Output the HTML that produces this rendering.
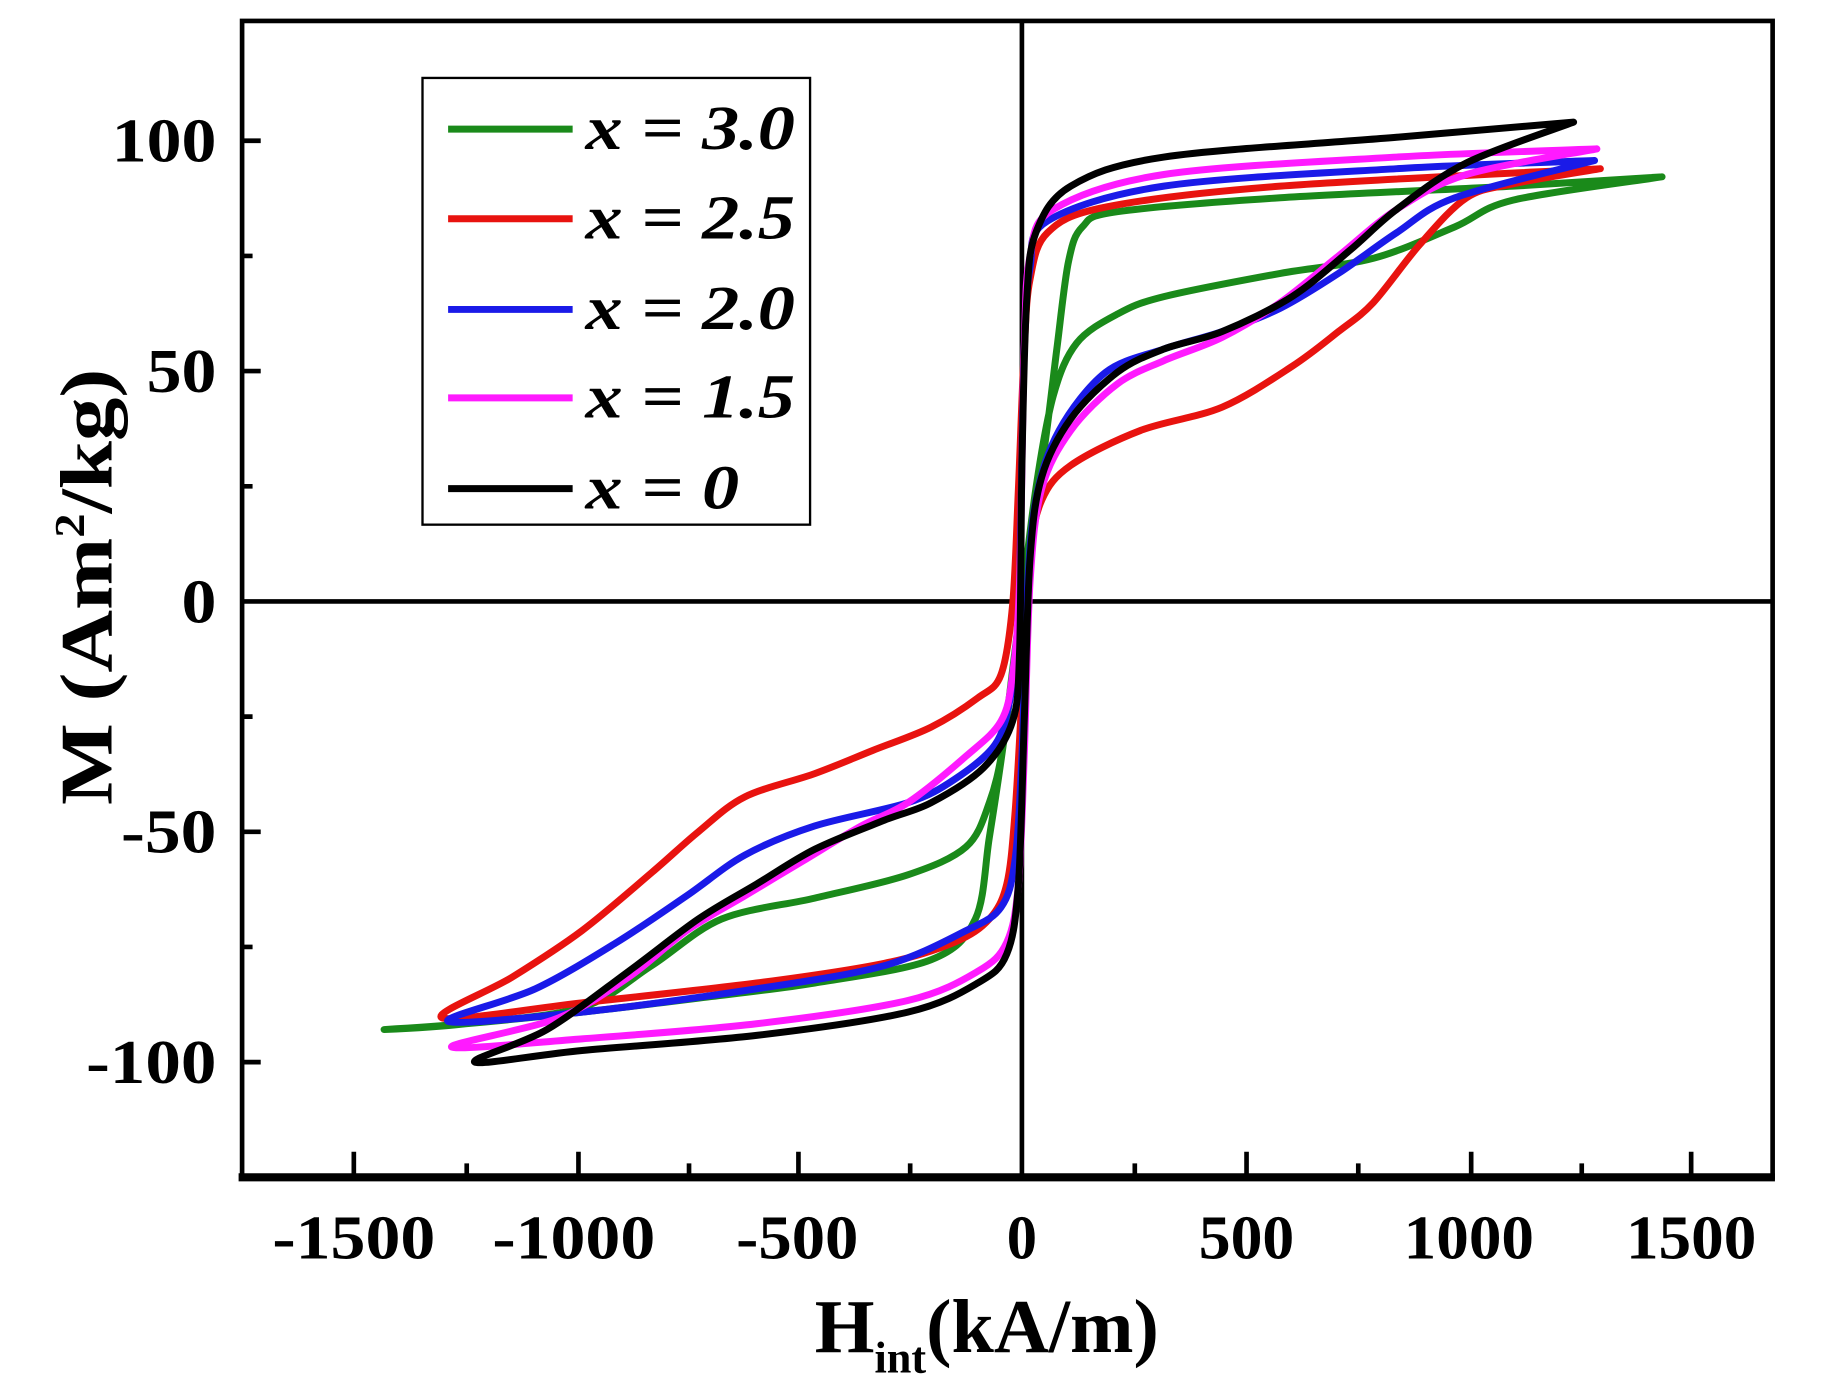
<!DOCTYPE html>
<html><head><meta charset="utf-8"><style>
html,body{margin:0;padding:0;background:#fff;}
svg{display:block}
text{font-family:"Liberation Serif","DejaVu Serif",serif;font-weight:bold;fill:#000}
</style></head><body>
<svg width="1825" height="1396" viewBox="0 0 1568 1200" preserveAspectRatio="none" xmlns="http://www.w3.org/2000/svg">
<rect width="1568" height="1200" fill="#fff"/>
<g stroke="#000" stroke-width="4" fill="none">
<rect x="208" y="18" width="1315" height="994"/>
<line x1="205" y1="1012" x2="1525" y2="1012" stroke-width="7"/>
<line x1="878" y1="18" x2="878" y2="1012"/>
<line x1="208" y1="517" x2="1523" y2="517"/>
<path d="M304,1012v-22M497,1012v-22M686,1012v-22M1071,1012v-22M1264,1012v-22M1453,1012v-22M401,1012v-12M592,1012v-12M782,1012v-12M975,1012v-12M1167,1012v-12M1359,1012v-12"/>
<path d="M208,121h16M208,319h16M208,715h16M208,913h16M208,220h9M208,418h9M208,616h9M208,814h9"/>
</g>
<g id="curves" fill="none" stroke-width="6" stroke-linejoin="round" stroke-linecap="round">
<polyline stroke="#1a8a1a" points="1428,152 1300,160 1100,170 960,182 930,195 918,225 908,300 898,380 885,460 872,560 862,640 850,720 838,790 800,825 700,845 600,858 500,870 400,880 330,885 400,880 500,866 560,830 620,790 700,772 780,752 830,728 850,690 862,640 875,540 890,420 905,340 925,295 960,270 1000,255 1100,235 1180,222 1250,195 1300,172 1428,152"/>
<polyline stroke="#e8130f" points="1375,145 1100,160 950,178 900,200 885,240 880,300 875,420 870,520 860,580 840,600 800,625 750,645 700,665 640,685 600,715 560,750 500,800 440,840 380,875 500,862 650,845 760,828 820,810 850,790 865,760 872,700 878,600 885,480 895,430 920,400 980,370 1050,350 1110,315 1150,285 1180,260 1220,210 1260,170 1300,158 1375,145"/>
<polyline stroke="#1a1ae8" points="1370,138 1200,145 1000,160 900,190 885,230 880,300 877,450 875,540 868,600 855,640 820,670 780,690 700,710 640,735 590,770 530,810 460,850 385,878 500,870 650,850 760,830 830,800 860,780 872,740 878,650 882,520 890,430 910,370 950,320 1000,300 1050,285 1100,265 1150,235 1200,200 1250,170 1370,138"/>
<polyline stroke="#ff1aff" points="1372,128 1200,135 1000,150 905,180 885,220 880,300 876,500 870,580 860,620 830,650 780,690 740,710 690,740 640,770 590,800 540,840 480,875 388,900 500,893 650,880 780,860 840,835 865,810 875,760 880,650 885,500 895,420 920,370 960,330 1000,310 1050,290 1100,260 1150,220 1200,180 1260,150 1372,128"/>
<polyline stroke="#000" points="1352,105 1200,118 1000,135 920,160 890,200 882,260 878,400 876,560 870,620 845,660 800,690 760,705 700,730 650,760 600,790 540,835 470,885 408,913 500,903 650,890 780,870 840,845 865,820 875,760 880,620 885,480 895,410 920,360 960,320 1000,300 1050,285 1110,255 1160,215 1200,180 1260,140 1352,105"/>
</g>
<rect x="363" y="67" width="333" height="384" fill="#fff" stroke="#000" stroke-width="2"/>
<g stroke-width="6">
<line x1="385" y1="111" x2="492" y2="111" stroke="#1a8a1a"/>
<line x1="385" y1="188" x2="492" y2="188" stroke="#e8130f"/>
<line x1="385" y1="266" x2="492" y2="266" stroke="#1a1ae8"/>
<line x1="385" y1="342" x2="492" y2="342" stroke="#ff1aff"/>
<line x1="385" y1="420" x2="492" y2="420" stroke="#000"/>
</g>
<g font-style="italic" font-size="54">
<text x="503" y="128" textLength="180" lengthAdjust="spacingAndGlyphs">x = 3.0</text>
<text x="503" y="205" textLength="180" lengthAdjust="spacingAndGlyphs">x = 2.5</text>
<text x="503" y="283" textLength="180" lengthAdjust="spacingAndGlyphs">x = 2.0</text>
<text x="503" y="359" textLength="180" lengthAdjust="spacingAndGlyphs">x = 1.5</text>
<text x="503" y="437" textLength="132" lengthAdjust="spacingAndGlyphs">x = 0</text>
</g>
<g font-size="54" text-anchor="middle">
<text x="304" y="1082" textLength="140" lengthAdjust="spacingAndGlyphs">-1500</text>
<text x="493" y="1082" textLength="140" lengthAdjust="spacingAndGlyphs">-1000</text>
<text x="685" y="1082" textLength="105" lengthAdjust="spacingAndGlyphs">-500</text>
<text x="878" y="1082" textLength="26" lengthAdjust="spacingAndGlyphs">0</text>
<text x="1071" y="1082" textLength="82" lengthAdjust="spacingAndGlyphs">500</text>
<text x="1262" y="1082" textLength="112" lengthAdjust="spacingAndGlyphs">1000</text>
<text x="1453" y="1082" textLength="112" lengthAdjust="spacingAndGlyphs">1500</text>
</g>
<g font-size="54" text-anchor="end">
<text x="186" y="139" textLength="90" lengthAdjust="spacingAndGlyphs">100</text>
<text x="186" y="337" textLength="60" lengthAdjust="spacingAndGlyphs">50</text>
<text x="186" y="535" textLength="30" lengthAdjust="spacingAndGlyphs">0</text>
<text x="186" y="733" textLength="82" lengthAdjust="spacingAndGlyphs">-50</text>
<text x="186" y="931" textLength="112" lengthAdjust="spacingAndGlyphs">-100</text>
</g>
<text x="700" y="1162" font-size="66">H<tspan font-size="38" dy="18">int</tspan><tspan dy="-18" textLength="200" lengthAdjust="spacingAndGlyphs">(kA/m)</tspan></text>
<text transform="translate(96,692) rotate(-90)" font-size="64" textLength="375" lengthAdjust="spacingAndGlyphs">M  (Am<tspan font-size="36" dy="-24">2</tspan><tspan dy="24">/kg)</tspan></text>
</svg>
<script>
document.querySelectorAll('#curves polyline').forEach(function(pl){
  var a=pl.getAttribute('points').trim().split(/\s+/).map(function(s){return s.split(',').map(Number);});
  var d='M'+a[0][0]+','+a[0][1];
  for(var i=0;i<a.length-1;i++){
    var p0=a[Math.max(i-1,0)],p1=a[i],p2=a[i+1],p3=a[Math.min(i+2,a.length-1)];
    var t=0.16;
    d+=' C'+(p1[0]+(p2[0]-p0[0])*t)+','+(p1[1]+(p2[1]-p0[1])*t)+' '+(p2[0]-(p3[0]-p1[0])*t)+','+(p2[1]-(p3[1]-p1[1])*t)+' '+p2[0]+','+p2[1];
  }
  var p=document.createElementNS('http://www.w3.org/2000/svg','path');
  p.setAttribute('d',d);p.setAttribute('stroke',pl.getAttribute('stroke'));
  pl.parentNode.replaceChild(p,pl);
});
</script>
</body></html>
